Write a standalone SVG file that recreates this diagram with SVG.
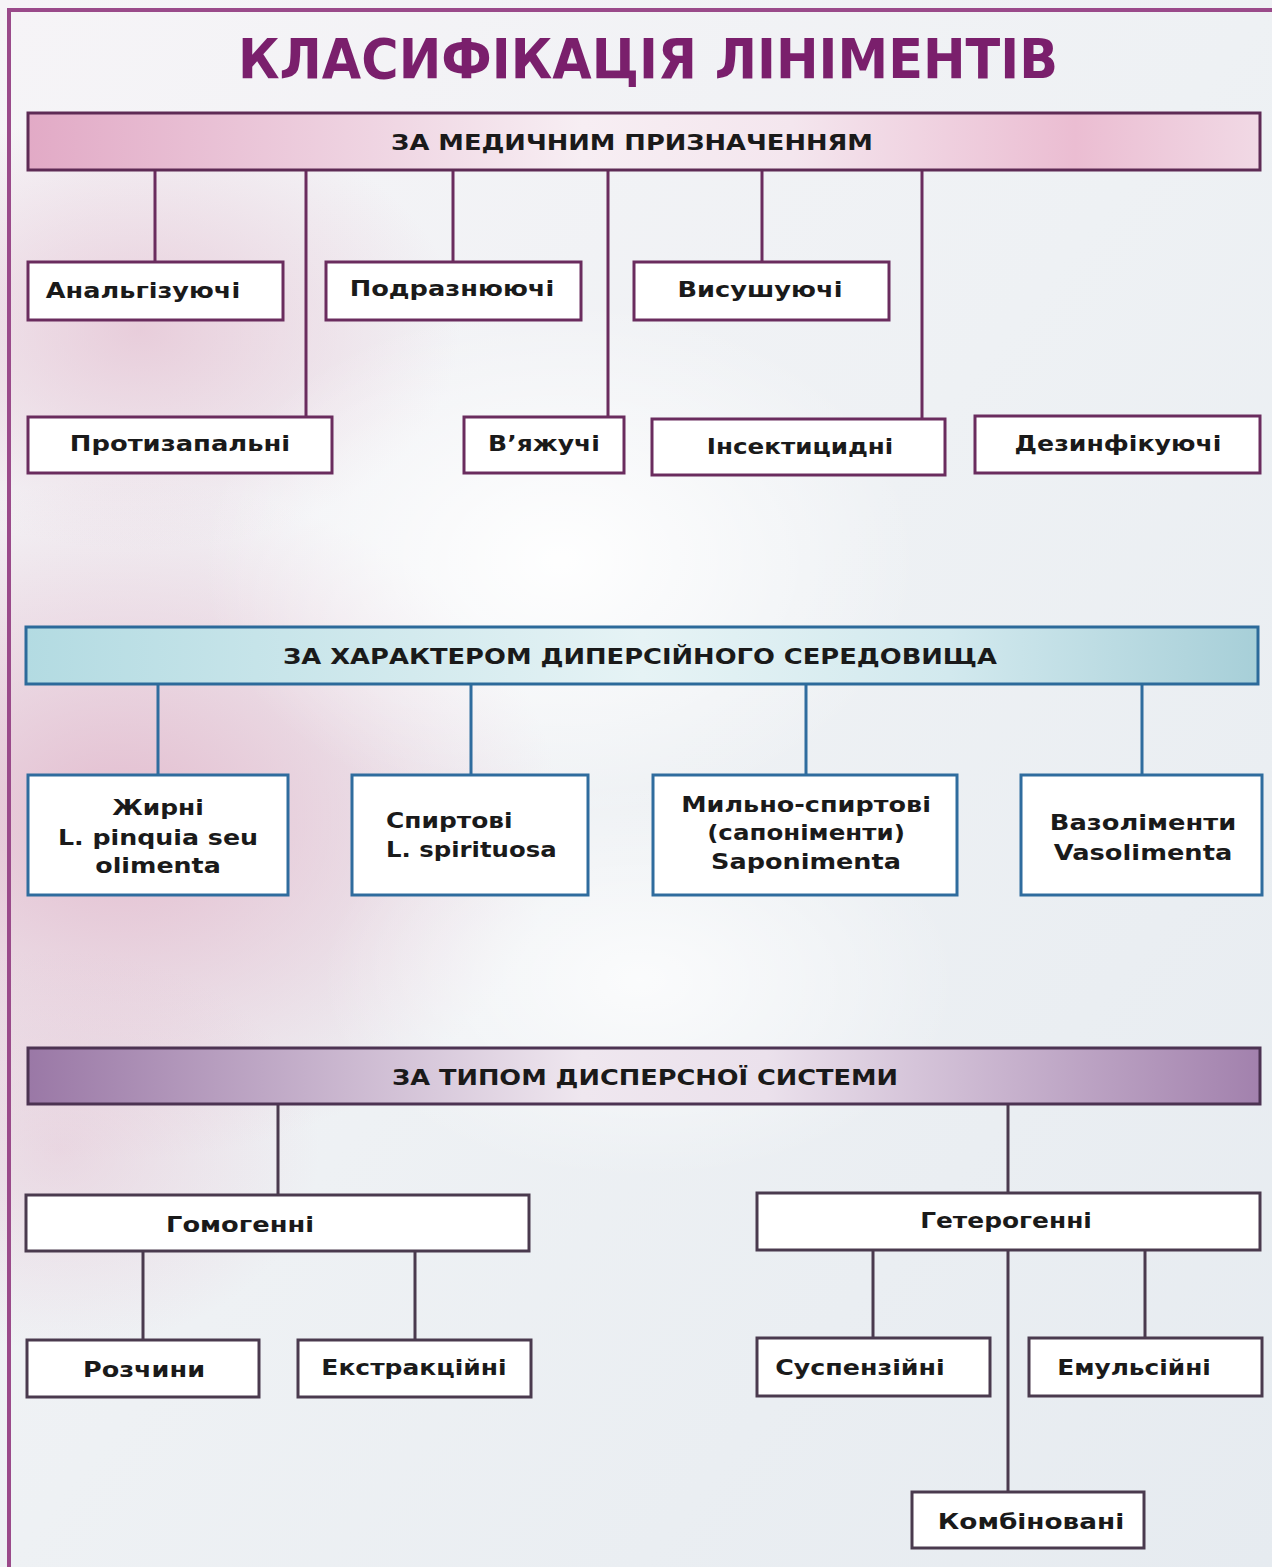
<svg xmlns="http://www.w3.org/2000/svg" width="1272" height="1567" viewBox="0 0 1272 1567">
  <defs>
    <linearGradient id="bgBase" x1="0" y1="0" x2="1" y2="1">
      <stop offset="0" stop-color="#f6f4f7"/>
      <stop offset="0.5" stop-color="#eef1f4"/>
      <stop offset="1" stop-color="#e6ebf0"/>
    </linearGradient>
    <radialGradient id="pinkLeft" cx="0.5" cy="0.5" r="0.5">
      <stop offset="0" stop-color="#e2bacd" stop-opacity="0.95"/>
      <stop offset="1" stop-color="#e2bacd" stop-opacity="0"/>
    </radialGradient>
    <radialGradient id="whiteGlow" cx="0.5" cy="0.5" r="0.5">
      <stop offset="0" stop-color="#ffffff" stop-opacity="0.95"/>
      <stop offset="1" stop-color="#ffffff" stop-opacity="0"/>
    </radialGradient>
    <linearGradient id="hdrPink" x1="0" y1="0" x2="1" y2="0">
      <stop offset="0" stop-color="#e2aac6"/>
      <stop offset="0.45" stop-color="#f7eef3"/>
      <stop offset="0.62" stop-color="#f4e6ee"/>
      <stop offset="0.85" stop-color="#ebbdd2"/>
      <stop offset="1" stop-color="#f1d9e5"/>
    </linearGradient>
    <linearGradient id="hdrCyan" x1="0" y1="0" x2="1" y2="0">
      <stop offset="0" stop-color="#b3dbe2"/>
      <stop offset="0.5" stop-color="#e6f3f5"/>
      <stop offset="0.75" stop-color="#d2e9ee"/>
      <stop offset="1" stop-color="#a7cfd8"/>
    </linearGradient>
    <linearGradient id="hdrPurple" x1="0" y1="0" x2="1" y2="0">
      <stop offset="0" stop-color="#9a78a6"/>
      <stop offset="0.45" stop-color="#efe7ef"/>
      <stop offset="0.6" stop-color="#ebe1ec"/>
      <stop offset="1" stop-color="#a281ad"/>
    </linearGradient>
    <style>
      text { font-family: "DejaVu Sans", "Liberation Sans", sans-serif; font-weight: bold; fill: #1a1a1a; text-anchor: middle; }
      .title { font-size: 56px; fill: #7a1f6c; }
      .hdr { font-size: 22px; }
      .lbl { font-size: 22px; }
      .left { text-anchor: start; }
      .box-p { fill: #ffffff; stroke: #6a2c5e; stroke-width: 3; }
      .box-b { fill: #ffffff; stroke: #2f6c9e; stroke-width: 3; }
      .box-d { fill: #ffffff; stroke: #4a3a4e; stroke-width: 3; }
      .ln-p { stroke: #6a2c5e; stroke-width: 3; fill: none; }
      .ln-b { stroke: #2f6c9e; stroke-width: 3; fill: none; }
      .ln-d { stroke: #4a3a4e; stroke-width: 3; fill: none; }
    </style>
  </defs>

  <!-- backdrop -->
  <rect x="0" y="0" width="1272" height="1567" fill="url(#bgBase)"/>
  <ellipse cx="120" cy="820" rx="440" ry="340" fill="url(#pinkLeft)"/>
  <ellipse cx="140" cy="330" rx="320" ry="220" fill="url(#pinkLeft)" opacity="0.7"/>
  <ellipse cx="60" cy="1150" rx="260" ry="200" fill="url(#pinkLeft)" opacity="0.5"/>
  <ellipse cx="560" cy="560" rx="360" ry="260" fill="url(#whiteGlow)"/>
  <ellipse cx="640" cy="980" rx="320" ry="200" fill="url(#whiteGlow)" opacity="0.8"/>

  <!-- frame -->
  <path d="M9,1567 V10 H1272" fill="none" stroke="#9a4a8a" stroke-width="4"/>

  <!-- labels are widened slightly with scale(sx 1) to get the broad lettering -->
  <text class="title" transform="translate(648 78) scale(1.05 1)" textLength="781" lengthAdjust="spacingAndGlyphs">КЛАСИФІКАЦІЯ ЛІНІМЕНТІВ</text>

  <!-- connectors -->
  <g id="connectors">
    <path class="ln-p" d="M155,170 V262 M306,170 V417 M453,170 V262 M608,170 V417 M762,170 V262 M922,170 V419"/>
    <path class="ln-b" d="M158,684 V775 M471,684 V775 M806,684 V775 M1142,684 V775"/>
    <path class="ln-d" d="M278,1104 V1195 M1008,1104 V1193 M143,1251 V1340 M415,1251 V1340 M873,1250 V1338 M1008,1250 V1492 M1145,1250 V1338"/>
  </g>

  <!-- section 1: by medical purpose -->
  <g id="hdr-medical">
    <rect x="28" y="113" width="1232" height="57" fill="url(#hdrPink)" stroke="#5e2b55" stroke-width="3"/>
    <text class="hdr" transform="translate(632 150) scale(1.1 1)" textLength="438" lengthAdjust="spacingAndGlyphs">ЗА МЕДИЧНИМ ПРИЗНАЧЕННЯМ</text>
  </g>
  <g id="n-analg">
    <rect class="box-p" x="28" y="262" width="255" height="58"/>
    <text class="lbl" transform="translate(143 298) scale(1.13 1)" textLength="172" lengthAdjust="spacingAndGlyphs">Анальгізуючі</text>
  </g>
  <g id="n-podr">
    <rect class="box-p" x="326" y="262" width="255" height="58"/>
    <text class="lbl" transform="translate(452 296) scale(1.13 1)" textLength="181" lengthAdjust="spacingAndGlyphs">Подразнюючі</text>
  </g>
  <g id="n-vysush">
    <rect class="box-p" x="634" y="262" width="255" height="58"/>
    <text class="lbl" transform="translate(760 297) scale(1.13 1)" textLength="146" lengthAdjust="spacingAndGlyphs">Висушуючі</text>
  </g>
  <g id="n-protyz">
    <rect class="box-p" x="28" y="417" width="304" height="56"/>
    <text class="lbl" transform="translate(180 451) scale(1.13 1)" textLength="195" lengthAdjust="spacingAndGlyphs">Протизапальні</text>
  </g>
  <g id="n-vyazh">
    <rect class="box-p" x="464" y="417" width="160" height="56"/>
    <text class="lbl" transform="translate(544 451) scale(1.13 1)" textLength="99" lengthAdjust="spacingAndGlyphs">В’яжучі</text>
  </g>
  <g id="n-insekt">
    <rect class="box-p" x="652" y="419" width="293" height="56"/>
    <text class="lbl" transform="translate(800 454) scale(1.13 1)" textLength="165" lengthAdjust="spacingAndGlyphs">Інсектицидні</text>
  </g>
  <g id="n-dezinf">
    <rect class="box-p" x="975" y="416" width="285" height="57"/>
    <text class="lbl" transform="translate(1118 451) scale(1.13 1)" textLength="183" lengthAdjust="spacingAndGlyphs">Дезинфікуючі</text>
  </g>

  <!-- section 2: by dispersion medium -->
  <g id="hdr-medium">
    <rect x="26" y="627" width="1232" height="57" fill="url(#hdrCyan)" stroke="#2c6a9a" stroke-width="3"/>
    <text class="hdr" transform="translate(640 664) scale(1.1 1)" textLength="649" lengthAdjust="spacingAndGlyphs">ЗА ХАРАКТЕРОМ ДИПЕРСІЙНОГО СЕРЕДОВИЩА</text>
  </g>
  <g id="n-zhyrni">
    <rect class="box-b" x="28" y="775" width="260" height="120"/>
    <text class="lbl" transform="translate(158 815) scale(1.13 1)" textLength="81" lengthAdjust="spacingAndGlyphs">Жирні</text>
    <text class="lbl" transform="translate(158 845) scale(1.13 1)" textLength="177" lengthAdjust="spacingAndGlyphs">L. pinquia seu</text>
    <text class="lbl" transform="translate(158 873) scale(1.13 1)" textLength="111" lengthAdjust="spacingAndGlyphs">olimenta</text>
  </g>
  <g id="n-spyrt">
    <rect class="box-b" x="352" y="775" width="236" height="120"/>
    <text class="lbl left" transform="translate(386 828) scale(1.13 1)" textLength="112" lengthAdjust="spacingAndGlyphs">Спиртові</text>
    <text class="lbl left" transform="translate(386 857) scale(1.13 1)" textLength="151" lengthAdjust="spacingAndGlyphs">L. spirituosa</text>
  </g>
  <g id="n-mylno">
    <rect class="box-b" x="653" y="775" width="304" height="120"/>
    <text class="lbl" transform="translate(806 812) scale(1.13 1)" textLength="221" lengthAdjust="spacingAndGlyphs">Мильно-спиртові</text>
    <text class="lbl" transform="translate(806 840) scale(1.13 1)" textLength="175" lengthAdjust="spacingAndGlyphs">(сапоніменти)</text>
    <text class="lbl" transform="translate(806 869) scale(1.13 1)" textLength="168" lengthAdjust="spacingAndGlyphs">Saponimenta</text>
  </g>
  <g id="n-vazol">
    <rect class="box-b" x="1021" y="775" width="241" height="120"/>
    <text class="lbl" transform="translate(1143 830) scale(1.13 1)" textLength="165" lengthAdjust="spacingAndGlyphs">Вазоліменти</text>
    <text class="lbl" transform="translate(1143 860) scale(1.13 1)" textLength="158" lengthAdjust="spacingAndGlyphs">Vasolimenta</text>
  </g>

  <!-- section 3: by type of disperse system -->
  <g id="hdr-system">
    <rect x="28" y="1048" width="1232" height="56" fill="url(#hdrPurple)" stroke="#4c3352" stroke-width="3"/>
    <text class="hdr" transform="translate(645 1085) scale(1.1 1)" textLength="460" lengthAdjust="spacingAndGlyphs">ЗА ТИПОМ ДИСПЕРСНОЇ СИСТЕМИ</text>
  </g>
  <g id="n-homog">
    <rect class="box-d" x="26" y="1195" width="503" height="56"/>
    <text class="lbl" transform="translate(240 1232) scale(1.13 1)" textLength="131" lengthAdjust="spacingAndGlyphs">Гомогенні</text>
  </g>
  <g id="n-heterog">
    <rect class="box-d" x="757" y="1193" width="503" height="57"/>
    <text class="lbl" transform="translate(1006 1228) scale(1.13 1)" textLength="152" lengthAdjust="spacingAndGlyphs">Гетерогенні</text>
  </g>
  <g id="n-rozch">
    <rect class="box-d" x="27" y="1340" width="232" height="57"/>
    <text class="lbl" transform="translate(144 1377) scale(1.13 1)" textLength="108" lengthAdjust="spacingAndGlyphs">Розчини</text>
  </g>
  <g id="n-ekstr">
    <rect class="box-d" x="298" y="1340" width="233" height="57"/>
    <text class="lbl" transform="translate(414 1375) scale(1.13 1)" textLength="164" lengthAdjust="spacingAndGlyphs">Екстракційні</text>
  </g>
  <g id="n-susp">
    <rect class="box-d" x="757" y="1338" width="233" height="58"/>
    <text class="lbl" transform="translate(860 1375) scale(1.13 1)" textLength="150" lengthAdjust="spacingAndGlyphs">Суспензійні</text>
  </g>
  <g id="n-emuls">
    <rect class="box-d" x="1029" y="1338" width="233" height="58"/>
    <text class="lbl" transform="translate(1134 1375) scale(1.13 1)" textLength="136" lengthAdjust="spacingAndGlyphs">Емульсійні</text>
  </g>
  <g id="n-kombin">
    <rect class="box-d" x="912" y="1492" width="232" height="56"/>
    <text class="lbl" transform="translate(1031 1529) scale(1.13 1)" textLength="165" lengthAdjust="spacingAndGlyphs">Комбіновані</text>
  </g>
</svg>
